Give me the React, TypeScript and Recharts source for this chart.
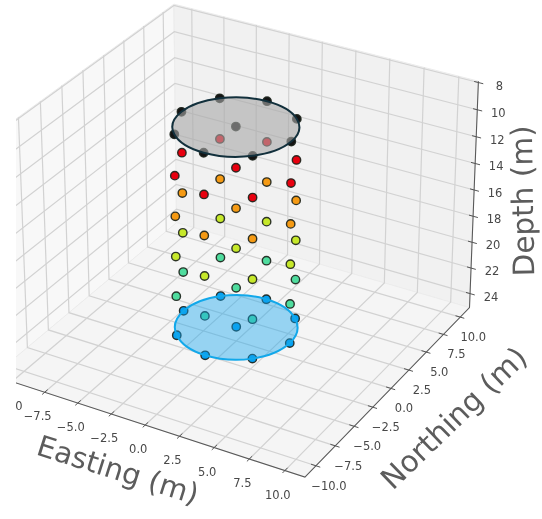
import React from 'react';
import { ScatterChart, Scatter, XAxis, YAxis } from 'recharts';

// ---- chart values ----
const eastingTicks = [-10, -7.5, -5, -2.5, 0, 2.5, 5, 7.5, 10];
const eastingTickLabels = ['0', '\u22127.5', '\u22125.0', '\u22122.5', '0.0', '2.5', '5.0', '7.5', '10.0'];
const northingTicks = [-10, -7.5, -5, -2.5, 0, 2.5, 5, 7.5, 10];
const northingTickLabels = ['\u221210.0', '\u22127.5', '\u22125.0', '\u22122.5', '0.0', '2.5', '5.0', '7.5', '10.0'];
const depthTicks = [8, 10, 12, 14, 16, 18, 20, 22, 24];
const ringEasting = [4, 2.83, 0, -2.83, -4, -2.83, 0, 2.83];
const ringNorthing = [0, 2.83, 4, 2.83, 0, -2.83, -4, -2.83];
const layerDepths = [24, 21, 18, 15, 12, 9];
const layerColors = ['#06a0f2', '#4fdc9e', '#c6e82a', '#f59a14', '#e8000f', '#141414'];

const E_MIN = -11.4, E_MAX = 11.4, N_MIN = -11.4, N_MAX = 11.4, D_MIN = 7.9, D_MAX = 25.1;

// ---- view calibration: where the axes sit in the 3D view [E, N, D, px, py] ----
const eAxisCal = [[-7.5,46,392],[-5,78,403],[-2.5,112,414],[0,145,425],[2.5,178,437],[5,213,448],[7.5,247,459],[10,283,470],[11.4,304,477]];
const nAxisCal = [[10,461,317],[7.5,444,335],[5,428,353],[2.5,410,370],[0,392,388],[-2.5,374,407],[-5,355,426],[-7.5,336,445],[-10,318,466],[11.4,469,308]];
const dAxisCal = [[7.9,479,80],[10,477,109],[12,476,136.7],[14,475,163.5],[16,473.5,190],[18,472.5,216],[20,471,242.5],[22,470,268],[24,469,293],[25.1,469,308]];
const leftTopCal = [[11.4,172,3],[10,163,11],[7.5,143,26],[5,124,41],[2.5,104,55],[0,83,70],[-2.5,62,86],[-5,41,102],[-7.5,18,117]];
const backTopCal = [[-10,192,9],[-7.5,224,17],[-5,257,26],[-2.5,289,33],[0,323,42],[2.5,357,50],[5,390,59],[7.5,424,68],[10,459,77]];
const leftFloorCal = [[10,166,230],[7.5,148,248]];

const calibration: number[][] = [
  ...eAxisCal.map(([e, x, y]) => [e, N_MIN, D_MAX, x, y]),
  ...nAxisCal.map(([n, x, y]) => [E_MAX, n, D_MAX, x, y]),
  ...dAxisCal.map(([d, x, y]) => [E_MAX, N_MAX, d, x, y]),
  ...leftTopCal.map(([n, x, y]) => [E_MIN, n, D_MIN, x, y]),
  ...backTopCal.map(([e, x, y]) => [e, N_MAX, D_MIN, x, y]),
  ...leftFloorCal.map(([n, x, y]) => [E_MIN, n, D_MAX, x, y]),
];

function solveCamera(cal: number[][]): number[] {
  const n = 11;
  const A: number[][] = Array.from({ length: n }, () => new Array(n + 1).fill(0));
  const add = (row: number[], rhs: number) => {
    for (let i = 0; i < n; i++) {
      for (let j = 0; j < n; j++) A[i][j] += row[i] * row[j];
      A[i][n] += row[i] * rhs;
    }
  };
  for (const [e, no, d, px, py] of cal) {
    const X = e / 10, Y = no / 10, Z = d / 10, u = px / 500, v = py / 500;
    add([X, Y, Z, 1, 0, 0, 0, 0, -u * X, -u * Y, -u * Z], u);
    add([0, 0, 0, 0, X, Y, Z, 1, -v * X, -v * Y, -v * Z], v);
  }
  for (let c = 0; c < n; c++) {
    let piv = c;
    for (let r = c + 1; r < n; r++) if (Math.abs(A[r][c]) > Math.abs(A[piv][c])) piv = r;
    [A[c], A[piv]] = [A[piv], A[c]];
    for (let r = 0; r < n; r++) {
      if (r === c) continue;
      const f = A[r][c] / A[c][c];
      for (let k = c; k <= n; k++) A[r][k] -= f * A[c][k];
    }
  }
  return A.map((row, i) => row[n] / row[i]);
}
const P = solveCamera(calibration);
const project = (e: number, n: number, d: number) => {
  const X = e / 10, Y = n / 10, Z = d / 10;
  const w = P[8] * X + P[9] * Y + P[10] * Z + 1;
  return {
    x: (500 * (P[0] * X + P[1] * Y + P[2] * Z + P[3])) / w,
    y: (500 * (P[4] * X + P[5] * Y + P[6] * Z + P[7])) / w,
  };
};

// ---- derived series ----
const panes = [
  { fill: '#f8f8f8', pts: [[E_MIN, N_MIN, D_MIN], [E_MIN, N_MAX, D_MIN], [E_MIN, N_MAX, D_MAX], [E_MIN, N_MIN, D_MAX]] },
  { fill: '#f1f1f1', pts: [[E_MIN, N_MAX, D_MIN], [E_MAX, N_MAX, D_MIN], [E_MAX, N_MAX, D_MAX], [E_MIN, N_MAX, D_MAX]] },
  { fill: '#f5f5f5', pts: [[E_MIN, N_MIN, D_MAX], [E_MAX, N_MIN, D_MAX], [E_MAX, N_MAX, D_MAX], [E_MIN, N_MAX, D_MAX]] },
].map((p) => ({ fill: p.fill, data: p.pts.map(([e, n, d]) => project(e, n, d)) }));

const gridPaths: { x: number; y: number }[][] = [
  ...eastingTicks.map((e) => [project(e, N_MIN, D_MAX), project(e, N_MAX, D_MAX), project(e, N_MAX, D_MIN)]),
  ...northingTicks.map((n) => [project(E_MAX, n, D_MAX), project(E_MIN, n, D_MAX), project(E_MIN, n, D_MIN)]),
  ...depthTicks.map((d) => [project(E_MIN, N_MIN, d), project(E_MIN, N_MAX, d), project(E_MAX, N_MAX, d)]),
];

const axisPaths = [
  [project(E_MIN, N_MIN, D_MAX), project(E_MAX, N_MIN, D_MAX), project(E_MAX, N_MAX, D_MAX), project(E_MAX, N_MAX, D_MIN)],
];
const tickPaths = [
  ...eastingTicks.map((e) => [project(e, N_MIN + 0.35, D_MAX), project(e, N_MIN - 0.3, D_MAX)]),
  ...northingTicks.map((n) => [project(E_MAX - 0.35, n, D_MAX), project(E_MAX + 0.3, n, D_MAX)]),
  ...depthTicks.map((d) => [project(E_MAX - 0.3, N_MAX, d), project(E_MAX + 0.35, N_MAX, d)]),
];

const offset = (p: { x: number; y: number }, dx: number, dy: number, label: string) => ({ x: p.x + dx, y: p.y + dy, label });
const tickLabels = [
  ...eastingTicks.map((e, i) => offset(project(e, N_MIN, D_MAX), i === 0 ? 7 : -7, 24, eastingTickLabels[i])),
  ...northingTicks.map((n, i) => offset(project(E_MAX, n, D_MAX), 13, 20, northingTickLabels[i])),
  ...depthTicks.map((d) => offset(project(E_MAX, N_MAX, d), 21, 3, String(d))),
];
const axisTitles = [
  { x: 118, y: 470, label: 'Easting (m)', angle: 17.5, size: 29 },
  { x: 454, y: 418, label: 'Northing (m)', angle: -44, size: 29.5 },
  { x: 523, y: 201, label: 'Depth (m)', angle: -91, size: 29.5 },
];

const ringDots = (d: number) => [...ringEasting.map((e, i) => project(e, ringNorthing[i], d)), project(0, 0, d)];
const ringEdge = (d: number) => ringEasting.map((e, i) => project(e, ringNorthing[i], d));
const topDepth = layerDepths[layerDepths.length - 1];
const bottomDepth = layerDepths[0];

// ---- renderers ----
const noDot = () => <g />;

const polygonLine = (fill: string) => (props: any) => (
  <polygon points={props.points.map((p: any) => `${p.x},${p.y}`).join(' ')} fill={fill} stroke="#ececec" strokeWidth={1} />
);

const discLine = (fill: string, fillOpacity: number, stroke: string) => (props: any) => {
  const p = props.points;
  const n = p.length;
  const k = 0.1875;
  let path = `M${p[0].x},${p[0].y}`;
  for (let i = 0; i < n; i++) {
    const a = p[(i + n - 1) % n], b = p[i], c = p[(i + 1) % n], e = p[(i + 2) % n];
    path += `C${b.x + (c.x - a.x) * k},${b.y + (c.y - a.y) * k} ${c.x - (e.x - b.x) * k},${c.y - (e.y - b.y) * k} ${c.x},${c.y}`;
  }
  return <path d={path + 'Z'} fill={fill} fillOpacity={fillOpacity} stroke={stroke} strokeWidth={2} />;
};

const dotShape = (fill: string) => (props: any) => (
  <circle cx={props.cx} cy={props.cy} r={4.2} fill={fill} stroke="#1a2018" strokeOpacity={0.9} strokeWidth={1.4} />
);

const tickLabelShape = (props: any) => (
  <text x={props.cx} y={props.cy} textAnchor="middle" dominantBaseline="central" fontFamily="DejaVu Sans" fontSize={11.5} fill="#484848">
    {props.payload.label}
  </text>
);

const titleShape = (props: any) => (
  <text
    x={props.cx}
    y={props.cy}
    textAnchor="middle"
    dominantBaseline="central"
    fontFamily="DejaVu Sans"
    fontSize={props.payload.size}
    fill="#5c5c5c"
    transform={`rotate(${props.payload.angle} ${props.cx} ${props.cy})`}
  >
    {props.payload.label}
  </text>
);

const PAD = 40;

export default function App() {
  return (
    <div style={{ position: 'absolute', left: 16, top: 0, width: 526, height: 519, overflow: 'hidden', background: '#fff' }}>
      <div style={{ position: 'absolute', left: -16 - PAD, top: 0, filter: 'blur(0.6px)' }}>
        <ScatterChart width={542 + PAD} height={519} margin={{ top: 0, right: 0, bottom: 0, left: 0 }}>
          <XAxis type="number" dataKey="x" domain={[-PAD, 542]} hide />
          <YAxis type="number" dataKey="y" domain={[0, 519]} reversed hide />
          {panes.map((p, i) => (
            <Scatter key={`pane${i}`} data={p.data} line={polygonLine(p.fill)} shape={noDot} isAnimationActive={false} />
          ))}
          {gridPaths.map((g, i) => (
            <Scatter key={`grid${i}`} data={g} line={{ stroke: '#d2d2d2', strokeWidth: 1.2 }} shape={noDot} isAnimationActive={false} />
          ))}
          {axisPaths.map((g, i) => (
            <Scatter key={`axis${i}`} data={g} line={{ stroke: '#5a5a5a', strokeWidth: 1.1 }} shape={noDot} isAnimationActive={false} />
          ))}
          {tickPaths.map((g, i) => (
            <Scatter key={`tick${i}`} data={g} line={{ stroke: '#555', strokeWidth: 1 }} shape={noDot} isAnimationActive={false} />
          ))}
          {layerDepths.map((d, i) => (
            <Scatter key={`layer${d}`} data={ringDots(d)} shape={dotShape(layerColors[i])} isAnimationActive={false} />
          ))}
          <Scatter data={ringEdge(bottomDepth)} line={discLine('#12a4ee', 0.42, '#12a8ea')} shape={noDot} isAnimationActive={false} />
          <Scatter data={ringEdge(topDepth)} line={discLine('#a8a8a8', 0.6, '#12303c')} shape={noDot} isAnimationActive={false} />
          <Scatter data={tickLabels} shape={tickLabelShape} isAnimationActive={false} />
          <Scatter data={axisTitles} shape={titleShape} isAnimationActive={false} />
        </ScatterChart>
      </div>
    </div>
  );
}
